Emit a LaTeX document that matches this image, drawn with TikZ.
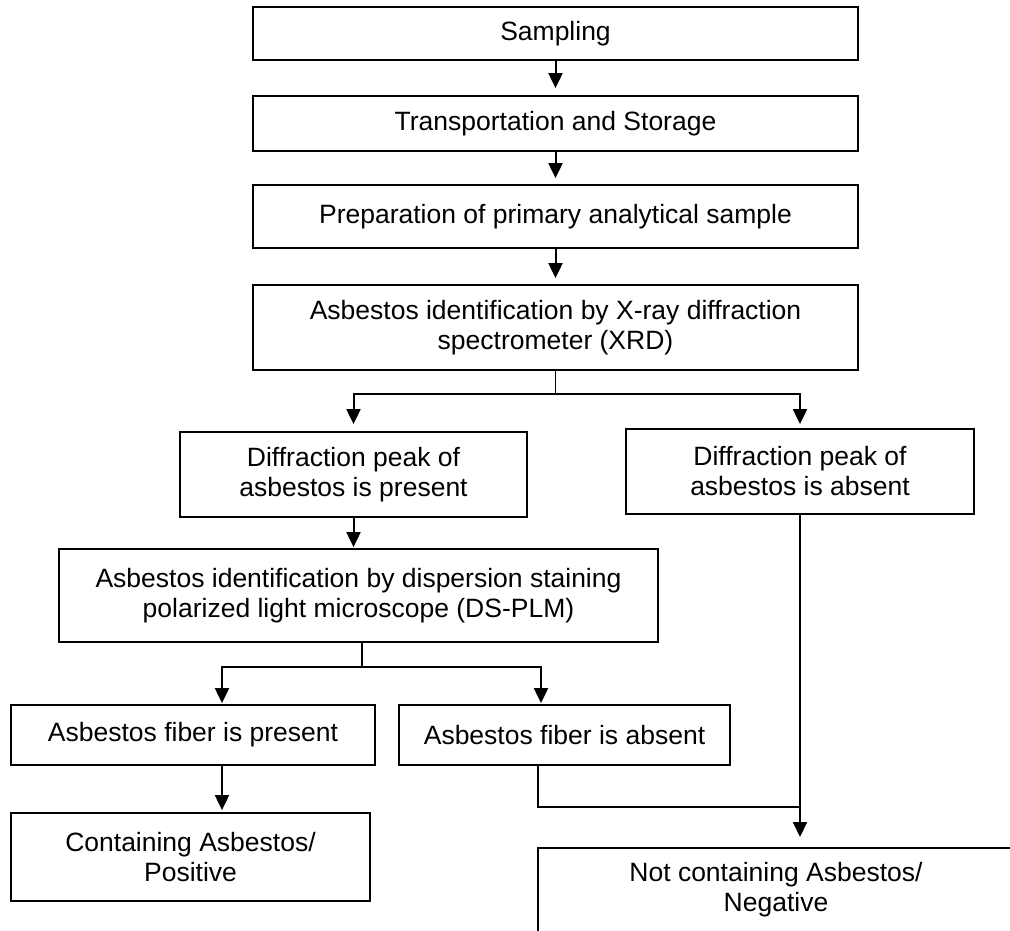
\documentclass[tikz,border=0pt]{standalone}
\usepackage{fontspec}
\setmainfont{Liberation Sans}
\usetikzlibrary{arrows.meta}
\begin{document}
\begin{tikzpicture}[x=1pt,y=-1pt,
  box/.style={draw, line width=1.8pt, align=center, inner xsep=4pt, inner ysep=4pt,
    font=\fontsize{26.5}{30}\selectfont},
  arr/.style={line width=2pt, -{Triangle[length=15pt,width=14pt]}},
  link/.style={line width=1.2pt}]
\useasboundingbox (0,0) rectangle (1010,931);
\clip (0,0) rectangle (1010,931);

% main column
\node[box, minimum width=605pt, minimum height=53pt] (s1) at (555.5,33.5) {Sampling};
\node[box, minimum width=605pt, minimum height=55pt] (s2) at (555.5,123.5) {Transportation and Storage};
\node[box, minimum width=605pt, minimum height=63pt] (s3) at (555.5,216.5) {Preparation of primary analytical sample};
\node[box, minimum width=605pt, minimum height=85pt] (s4) at (555.5,327.5) {Asbestos identification by X-ray diffraction\\spectrometer (XRD)};

% XRD outcomes
\node[box, minimum width=347pt, minimum height=85pt] (p1) at (353.5,474.5) {Diffraction peak of\\asbestos is present};
\node[box, minimum width=348pt, minimum height=85pt] (a1) at (800,471.5) {Diffraction peak of\\asbestos is absent};

% DS-PLM step
\node[box, minimum width=599pt, minimum height=93pt] (d) at (358.5,595.5) {Asbestos identification by dispersion staining\\polarized light microscope (DS-PLM)};

% DS-PLM outcomes
\node[box, minimum width=364pt, minimum height=60pt] (f1) at (193,735) {Asbestos fiber is present};
\node[box, minimum width=331pt, minimum height=60pt] (f2) at (564.5,735) {Asbestos fiber is absent};

% results
\node[box, minimum width=359pt, minimum height=88pt] (c) at (190.5,857) {Containing Asbestos/\\Positive};
\node[box, anchor=north, minimum width=476pt, inner ysep=14pt, text depth=70pt] (n) at (776,847) {Not containing Asbestos/\\Negative};

% connectors
\draw[arr, shorten >=7pt] (s1) -- (s2);
\draw[arr, shorten >=6pt] (s2) -- (s3);
\draw[arr, shorten >=6pt] (s3) -- (s4);

\coordinate (j1) at (555.5,394);
\draw[link] (s4.south) -- (j1);
\draw[arr, shorten >=7pt] (j1) -| (p1.north);
\draw[arr, shorten >=4pt] (j1) -| (a1.north);

\draw[arr, shorten >=1pt] (p1.south) -- (p1.south |- d.north);

\coordinate (j2) at (362,667);
\draw[link] (d.south -| j2) -- (j2);
\draw[arr, shorten >=1pt] (j2) -| ([xshift=29pt]f1.north);
\draw[arr, shorten >=1pt] (j2) -| ([xshift=-23.5pt]f2.north);

\draw[arr, shorten >=2pt] ([xshift=29pt]f1.south) -- ([xshift=29pt]f1.south |- c.north);

\coordinate (j3) at (800,807);
\draw[link] ([xshift=-26.5pt]f2.south) |- (j3);
\draw[arr, shorten >=10pt] (a1.south) -- (a1.south |- n.north);
\end{tikzpicture}
\end{document}
